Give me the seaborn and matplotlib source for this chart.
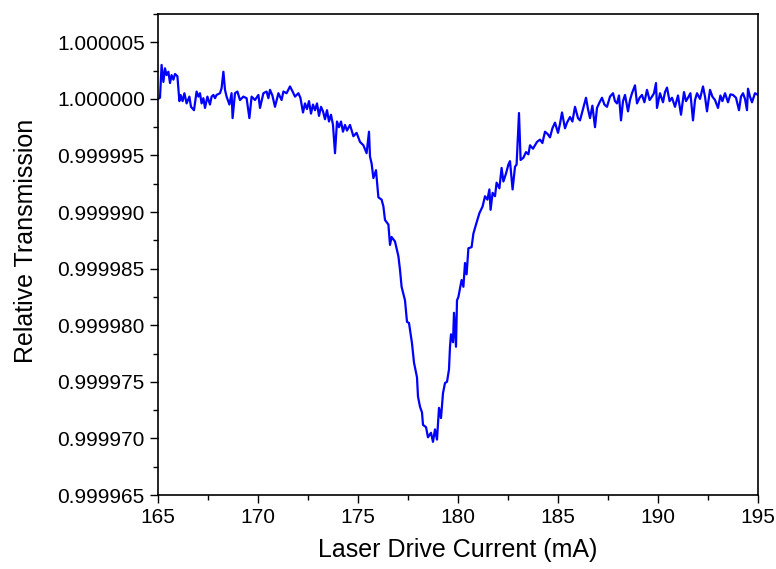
import numpy as np
import pandas as pd
import matplotlib.pyplot as plt
import seaborn as sns
from matplotlib.ticker import MultipleLocator, FormatStrFormatter

# laser drive current (mA) and transmission deviation from 1 (in ppm)
current_ma = [
    165.0, 165.1, 165.18, 165.27, 165.35, 165.43, 165.52, 165.6, 165.68, 165.77,
    165.85, 165.97, 166.07, 166.13, 166.23, 166.32, 166.43, 166.57, 166.65, 166.8,
    166.93, 167.02, 167.1, 167.18, 167.27, 167.35, 167.47, 167.6, 167.68, 167.77,
    167.85, 167.93, 168.1, 168.18, 168.27, 168.35, 168.43, 168.57, 168.68, 168.73,
    168.85, 168.97, 169.1, 169.27, 169.43, 169.57, 169.68, 169.85, 170.02, 170.1,
    170.27, 170.43, 170.52, 170.6, 170.72, 170.85, 171.02, 171.18, 171.27, 171.43,
    171.6, 171.73, 171.85, 172.02, 172.12, 172.25, 172.35, 172.45, 172.55, 172.65,
    172.75, 172.85, 172.95, 173.05, 173.15, 173.25, 173.35, 173.45, 173.55, 173.65,
    173.75, 173.85, 173.95, 174.05, 174.15, 174.25, 174.35, 174.45, 174.6, 174.77,
    174.93, 175.1, 175.27, 175.43, 175.55, 175.6, 175.68, 175.77, 175.9, 176.02,
    176.18, 176.27, 176.35, 176.52, 176.6, 176.68, 176.85, 177.02, 177.1, 177.18,
    177.35, 177.45, 177.55, 177.7, 177.8, 177.95, 178.0, 178.1, 178.2, 178.25,
    178.4, 178.5, 178.65, 178.75, 178.85, 178.95, 179.05, 179.15, 179.25, 179.35,
    179.45, 179.55, 179.6, 179.65, 179.75, 179.8, 179.9, 179.95, 180.02, 180.18,
    180.27, 180.35, 180.43, 180.52, 180.68, 180.77, 180.9, 181.07, 181.23, 181.35,
    181.47, 181.57, 181.63, 181.73, 181.85, 181.93, 182.07, 182.18, 182.27, 182.4,
    182.52, 182.6, 182.73, 182.85, 182.93, 183.05, 183.13, 183.27, 183.4, 183.52,
    183.6, 183.75, 183.95, 184.1, 184.22, 184.35, 184.48, 184.6, 184.72, 184.85,
    185.0, 185.1, 185.2, 185.35, 185.45, 185.6, 185.72, 185.85, 186.0, 186.1,
    186.25, 186.4, 186.5, 186.6, 186.72, 186.85, 186.95, 187.08, 187.2, 187.32,
    187.45, 187.6, 187.75, 187.85, 187.95, 188.05, 188.15, 188.25, 188.35, 188.5,
    188.6, 188.7, 188.85, 188.95, 189.08, 189.2, 189.32, 189.45, 189.58, 189.7,
    189.8, 189.9, 189.95, 190.1, 190.25, 190.35, 190.45, 190.58, 190.7, 190.85,
    191.0, 191.15, 191.3, 191.4, 191.5, 191.62, 191.75, 191.85, 191.95, 192.1,
    192.25, 192.35, 192.45, 192.6, 192.72, 192.85, 193.0, 193.12, 193.22, 193.35,
    193.5, 193.62, 193.75, 193.9, 194.05, 194.15, 194.25, 194.35, 194.45, 194.5,
    194.6, 194.7, 194.85, 195.0,
]
deviation_ppm = [
    0.0, 0.1, 3.0, 1.5, 2.7, 2.1, 2.4, 1.4, 2.1, 1.7,
    2.2, 2.0, -0.2, 0.35, -0.2, 0.5, -0.4, 0.2, -0.7, -1.0,
    0.65, 0.2, 0.5, -0.4, 0.06, -0.8, 0.2, -0.5, 0.2, 0.35,
    0.06, 0.35, 0.5, 0.95, 2.4, 0.8, 0.2, -0.5, 0.5, -1.7,
    0.5, 0.65, -0.1, 0.2, 0.06, -1.7, 0.2, -0.1, 0.35, -0.8,
    0.5, 0.65, 0.06, 0.8, 0.3, -0.7, 0.5, -0.1, 0.65, 0.5,
    1.1, 0.65, 0.2, 0.5, 0.1, -1.2, -0.4, -0.9, -0.2, -1.3,
    -0.5, -1.0, -0.4, -1.5, -0.7, -1.1, -1.8, -1.0, -2.0, -1.4,
    -2.3, -4.8, -2.0, -2.5, -2.0, -2.9, -2.3, -2.8, -2.3, -3.3,
    -3.0, -3.8, -4.1, -4.8, -2.9, -5.1, -5.7, -7.0, -6.3, -8.7,
    -8.9, -9.5, -10.7, -11.1, -12.9, -12.2, -12.6, -13.9, -15.1, -16.6,
    -17.8, -19.7, -19.8, -21.6, -23.3, -24.6, -26.3, -27.2, -27.7, -28.8,
    -29.0, -29.9, -29.5, -30.3, -29.2, -30.1, -27.3, -28.2, -26.0, -25.1,
    -25.0, -23.9, -21.9, -20.8, -21.5, -18.9, -21.9, -17.8, -17.5, -16.0,
    -16.6, -14.5, -15.5, -13.2, -13.1, -11.9, -11.1, -10.1, -9.5, -8.6,
    -8.9, -8.0, -9.8, -8.3, -8.6, -7.4, -7.9, -6.1, -7.3, -6.6,
    -5.8, -5.5, -8.0, -6.0, -5.8, -1.25, -5.4, -5.2, -4.7, -4.9,
    -4.1, -4.4, -3.8, -3.6, -3.9, -2.9, -3.1, -3.4, -2.6, -2.1,
    -3.0, -2.2, -1.2, -2.6, -2.1, -1.6, -2.0, -0.7, -1.7, -1.9,
    -0.9, 0.1, -0.9, -1.7, -0.6, -2.5, -0.8, -0.3, 0.1, -0.5,
    -0.7, 0.2, 0.5, -0.2, -0.4, 0.3, -1.9, -0.2, 0.35, -1.1,
    -0.1, 0.5, 1.2, -0.4, 0.1, 0.35, -0.3, 0.8, -0.1, 0.2,
    0.5, 1.4, -0.8, 0.5, -0.3, 0.6, 1.0, -0.2, 0.1, -0.7,
    0.3, -1.4, 0.6, -0.2, 0.1, 0.5, -1.9, -0.1, 0.5, 0.0,
    1.1, 0.2, -1.1, 0.8, 0.2, -0.1, -0.8, 0.3, -0.2, 0.5,
    -0.3, 0.4, 0.35, 0.1, -1.0, 0.2, 0.5, 0.0, -1.0, 0.9,
    0.2, -0.3, 0.5, 0.35,
]

df = pd.DataFrame({
    'current': current_ma,
    'transmission': 1 + np.array(deviation_ppm) * 1e-6,
})

sns.set_style('ticks')
plt.rcParams['font.family'] = ['Liberation Sans', 'DejaVu Sans']
plt.rcParams['text.color'] = 'black'
plt.rcParams['axes.labelcolor'] = 'black'

fig = plt.figure(figsize=(7.76, 5.69), dpi=100)
ax = fig.add_axes([0.2036, 0.130, 0.7732, 0.8454])

sns.lineplot(x='current', y='transmission', data=df, color='#0000ff',
             linewidth=1.6, estimator=None, ax=ax)

ax.set_xlim(165, 195)
ax.set_ylim(0.999965, 1.0000075)
ax.xaxis.set_major_locator(MultipleLocator(5))
ax.xaxis.set_minor_locator(MultipleLocator(2.5))
ax.yaxis.set_major_locator(MultipleLocator(5e-6))
ax.yaxis.set_minor_locator(MultipleLocator(2.5e-6))
ax.yaxis.set_major_formatter(FormatStrFormatter('%.6f'))

ax.tick_params(which='major', direction='out', length=6, width=1,
               labelsize=15, colors='black')
ax.tick_params(which='minor', direction='out', length=3.5, width=1, colors='black')
for side in ['left', 'right', 'top', 'bottom']:
    ax.spines[side].set_color('black')
    ax.spines[side].set_linewidth(1.2)

ax.set_xlabel('Laser Drive Current (mA)', fontsize=18, labelpad=8)
ax.set_ylabel('Relative Transmission', fontsize=18)
ax.yaxis.set_label_coords(-0.2, 0.528)

plt.savefig('out.png', dpi=100)
